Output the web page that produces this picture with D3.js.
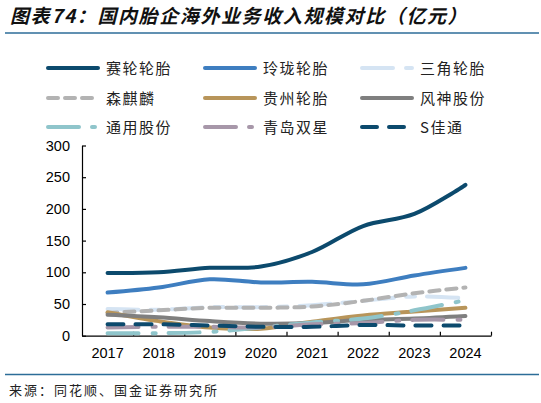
<!DOCTYPE html>
<html>
<head>
<meta charset="utf-8">
<script src="https://cdn.jsdelivr.net/npm/d3@7/dist/d3.min.js"></script>
<style>
  html, body { margin: 0; padding: 0; background: #fff; }
  svg { display: block; }
</style>
</head>
<body>
<svg id="chart" width="541" height="403"></svg>
<script>
// ---- data ----
const years = ["2017", "2018", "2019", "2020", "2021", "2022", "2023", "2024"];
const seriesNames = ["赛轮轮胎", "玲珑轮胎", "三角轮胎", "森麒麟", "贵州轮胎", "风神股份", "通用股份", "青岛双星", "S佳通"];
const sailun     = [99, 100, 107, 109, 132, 173, 192, 238];
const linglong   = [68, 76, 89, 84, 85, 81, 95, 107];
const sanjiao    = [42, 41, 45, 45, 48, 55, 62, 59];
const senqilin   = [36, 40, 44, 44, 46, 55, 67, 76];
const guizhou    = [37, 23, 13, 11, 22, 32, 38, 44];
const fengshen   = [33, 29, 23, 19, 20, 25, 27, 31];
const tongyong   = [4, 4, 6, 13, 21, 27, 40, 56];
const qingdao    = [13, 14, 14, 13, 18, 20, 25, 25];
const jiatong    = [18, 18, 16, 14, 14, 17, 16, 16];
const yTicks = [0, 50, 100, 150, 200, 250, 300];
const titleText = "图表74：国内胎企海外业务收入规模对比（亿元）";
const sourceText = "来源：同花顺、国金证券研究所";

// ---- styles ----
const seriesValues = [sailun, linglong, sanjiao, senqilin, guizhou, fengshen, tongyong, qingdao, jiatong];
const colors = ["#0c4a6d", "#3e7ec0", "#d5e4f3", "#b3b3b3", "#b8955a", "#7f7f7f", "#8fc5cb", "#a797a9", "#0c4a6d"];
const dashes = [null, null, "31,12,9,12", "10,7", null, null, "31,14,3,13", "31,14,3,13", "16,12"];
const legendDashes = [null, null, "31,13,9,100", "10,7", null, null, "31,13,3,100", "31,13,3,100", "15,12"];

const svg = d3.select("#chart");
const cjk = "'Noto Sans CJK SC', 'Noto Sans', sans-serif";
const latin = "'Liberation Sans', Arial, sans-serif";

// title
svg.append("text")
  .attr("x", 10).attr("y", 23)
  .attr("font-family", cjk)
  .attr("font-size", 19)
  .attr("font-style", "italic")
  .attr("font-weight", "bold")
  .attr("letter-spacing", 1.6)
  .attr("fill", "#111")
  .text(titleText);
svg.append("line").attr("x1", 5).attr("x2", 539).attr("y1", 33).attr("y2", 33)
  .attr("stroke", "#2c6d98").attr("stroke-width", 1.5);

// footer
svg.append("line").attr("x1", 5).attr("x2", 539).attr("y1", 374.5).attr("y2", 374.5)
  .attr("stroke", "#2c6d98").attr("stroke-width", 1.5);
svg.append("text")
  .attr("x", 9).attr("y", 395)
  .attr("font-family", cjk)
  .attr("font-size", 13)
  .attr("letter-spacing", 2)
  .attr("fill", "#222")
  .text(sourceText);

// scales
const x = d3.scaleBand().domain(years).range([82, 491]);
const xc = d => x(d) + x.bandwidth() / 2;
const y = d3.scaleLinear().domain([0, 300]).range([335.7, 145.5]);
const xTickScale = d3.scaleLinear().domain([0, years.length]).range([82, 491]);

// axes
const yAxis = svg.append("g").attr("transform", "translate(82,0)")
  .call(d3.axisLeft(y).tickValues(yTicks).tickSize(-4).tickPadding(12).tickSizeOuter(0));
yAxis.selectAll("text").attr("font-family", latin).attr("font-size", 14.5).attr("fill", "#000");
yAxis.selectAll("line, path").attr("stroke", "#000").attr("stroke-width", 1.2);

const xAxisLabels = svg.append("g").attr("transform", "translate(0,335.7)")
  .call(d3.axisBottom(x).tickSize(0).tickPadding(12.5));
xAxisLabels.select("path").remove();
xAxisLabels.selectAll("text").attr("font-family", latin).attr("font-size", 14.5).attr("fill", "#000");

const xAxisTicks = svg.append("g").attr("transform", "translate(0,335.7)")
  .call(d3.axisBottom(xTickScale).tickValues(d3.range(1, years.length + 1)).tickSize(-4).tickFormat("").tickSizeOuter(0));
xAxisTicks.selectAll("line, path").attr("stroke", "#000").attr("stroke-width", 1.2);

// lines
const line = d3.line()
  .x((d, i) => xc(years[i]))
  .y(d => y(d))
  .curve(d3.curveCatmullRom.alpha(0.5));

seriesValues.forEach((vals, i) => {
  svg.append("path")
    .datum(vals)
    .attr("d", line)
    .attr("fill", "none")
    .attr("stroke", colors[i])
    .attr("stroke-width", 4)
    .attr("stroke-linecap", "round")
    .attr("stroke-dasharray", dashes[i]);
});

// legend
const colX = [46, 203, 360];
const rowY = [68, 98, 127];
seriesNames.forEach((name, i) => {
  const cx = colX[i % 3], cy = rowY[Math.floor(i / 3)];
  svg.append("line")
    .attr("x1", cx + 2).attr("x2", cx + 52).attr("y1", cy).attr("y2", cy)
    .attr("stroke", colors[i]).attr("stroke-width", 4)
    .attr("stroke-linecap", "round")
    .attr("stroke-dasharray", legendDashes[i]);
  svg.append("text")
    .attr("x", cx + 60).attr("y", cy + 5.5)
    .attr("font-family", cjk)
    .attr("font-size", 15)
    .attr("letter-spacing", 1.5)
    .attr("fill", "#222")
    .text(name);
});
</script>
</body>
</html>
